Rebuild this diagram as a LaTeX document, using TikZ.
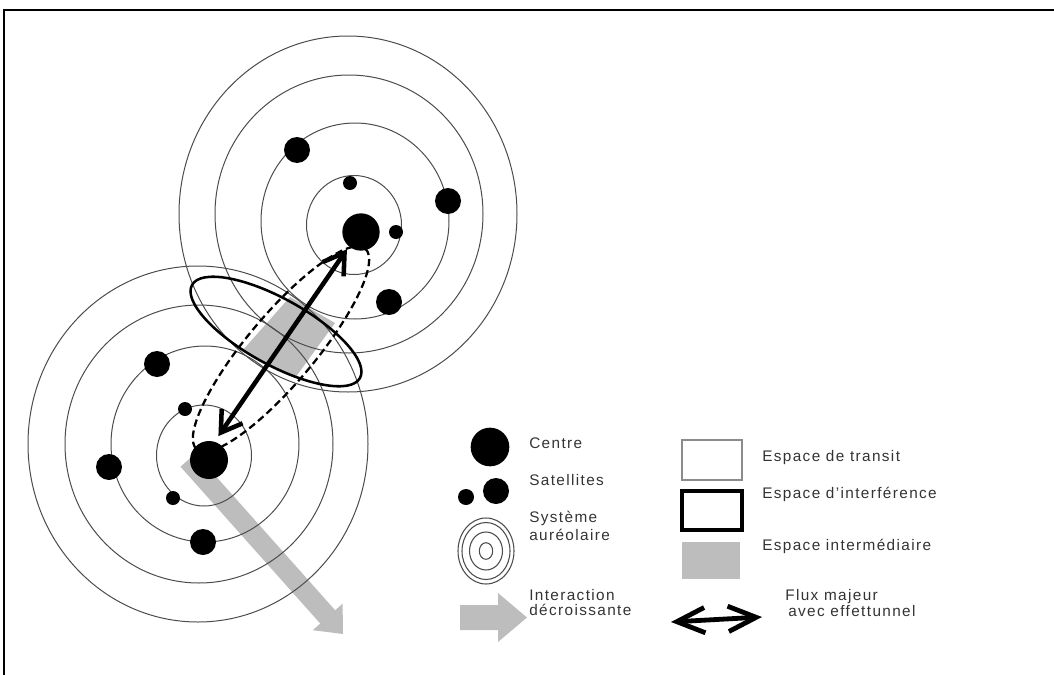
\documentclass[tikz,border=0pt]{standalone}
\usepackage{fontspec}
\setmainfont{Liberation Sans}
\usetikzlibrary{arrows.meta}
\begin{document}
\begin{tikzpicture}[x=0.75pt,y=-0.75pt,
  ring/.style={draw=black!70,line width=0.75pt},
  greyfill/.style={fill=black!26},
  dot/.style={circle,fill=black,inner sep=0pt,minimum size=#1},
  lbl/.style={anchor=base west,inner sep=0pt,text=black!80,
    font=\fontsize{11.5}{13}\selectfont\addfontfeature{LetterSpace=9}},
  mainflux/.style={line width=3.4pt,
    arrows={Straight Barb[length=15pt,width=19pt]-Straight Barb[length=15pt,width=19pt]}},
  legflux/.style={line width=3.6pt,
    arrows={Straight Barb[length=21pt,width=19pt]-Straight Barb[length=21pt,width=19pt]}}
]
\useasboundingbox (0,0) rectangle (1054,675);
% frame
\draw[line width=1.5pt] (4,675) -- (4,10) -- (1054,10);

% grey intermediate space and decreasing interaction arrow
\fill[greyfill] (290,297) -- (335,323) -- (295,378) -- (242,351) -- cycle;
\fill[greyfill] (180.5,466.7) -- (320.2,623.5) -- (312.8,630.2) -- (343,634)
   -- (342.6,603.6) -- (335.2,610.3) -- (195.5,453.4) -- cycle;

% upper aureolar system
\draw[ring] (348,214) ellipse [x radius=169,y radius=178];
\draw[ring] (349,214) ellipse [x radius=134,y radius=139];
\draw[ring] (355,221) ellipse [x radius=94,y radius=98];
\draw[ring] (354,225) ellipse [x radius=47.5,y radius=49.5];
% lower aureolar system
\draw[ring] (198,444) ellipse [x radius=170,y radius=178];
\draw[ring] (199,444) ellipse [x radius=134,y radius=139];
\draw[ring] (205,444) ellipse [x radius=94,y radius=98];
\draw[ring] (204,455.5) ellipse [x radius=47.5,y radius=50.5];

% interference space and transit space
\draw[line width=1.9pt, rotate around={-29:(276,331.5)}] (276,331.5) ellipse [x radius=96,y radius=33];
\draw[line width=1.7pt, dash pattern=on 5.5pt off 3pt, rotate around={50:(281,349)}] (281,349) ellipse [x radius=131,y radius=34];

% upper system dots
\node[dot=28pt] (uc) at (361,232) {};
\node[dot=19.5pt] (us1) at (297,150) {};
\node[dot=10.5pt] (us2) at (350,183) {};
\node[dot=19.5pt] (us3) at (448,201) {};
\node[dot=10.5pt] (us4) at (396,232) {};
\node[dot=19.5pt] (us5) at (389,302) {};
% lower system dots
\node[dot=28.5pt] (lc) at (209,460) {};
\node[dot=19.5pt] (ls1) at (157,364) {};
\node[dot=10.5pt] (ls2) at (185,409) {};
\node[dot=19.5pt] (ls3) at (109,467) {};
\node[dot=10.5pt] (ls4) at (173,498) {};
\node[dot=19.5pt] (ls5) at (203,542) {};

% major flux
\draw[mainflux, shorten <=5pt, shorten >=2.5pt] (lc.73) -- (uc.230);

% legend, left column
\node[dot=29pt] (kc) at (490,447) {};
\node[lbl] (tcentre) at (529,448) {Centre};
\node[dot=12pt] (ks1) at (466,497) {};
\node[dot=19.5pt] (ks2) at (496,491) {};
\node[lbl] (tsat) at (529,485) {Satellites};
\draw[ring,line width=0.8pt] (486,551) ellipse [x radius=28,y radius=33];
\draw[ring,line width=0.8pt] (486,551) ellipse [x radius=24,y radius=28.5];
\draw[ring,line width=0.8pt] (486,551) ellipse [x radius=16.5,y radius=19];
\draw[ring,line width=0.8pt] (486,551) ellipse [x radius=6.7,y radius=8.3];
\node[lbl] (tsys1) at (529,522) {Système};
\node[lbl] (tsys2) at (529,540.5) {auréolaire};
\fill[greyfill] (460,605) -- (498,605) -- (498,593) -- (527,617.5) -- (498,642)
   -- (498,630) -- (460,630) -- cycle;
\node[lbl] (tinter1) at (529,600) {Interaction};
\node[lbl] (tinter2) at (529,615.5) {décroissante};

% legend, right column
\draw[draw=black!45,line width=0.8pt] (682,440) rectangle (742,480);
\node[lbl] (ttransit) at (762,461) {Espace de transit};
\draw[line width=2.3pt] (682,491) rectangle (742,530);
\node[lbl] (tinterf) at (762,498) {Espace d'interférence};
\fill[greyfill] (682,542) rectangle (740,579);
\node[lbl] (tinterm) at (762,550) {Espace intermédiaire};
\coordinate (fa) at (671,622);
\coordinate (fb) at (762,617);
\draw[legflux] (fa) -- (fb);
\node[lbl] (tflux1) at (785,600) {Flux majeur};
\node[lbl] (tflux2) at (788,616.5) {avec effettunnel};
\end{tikzpicture}
\end{document}
